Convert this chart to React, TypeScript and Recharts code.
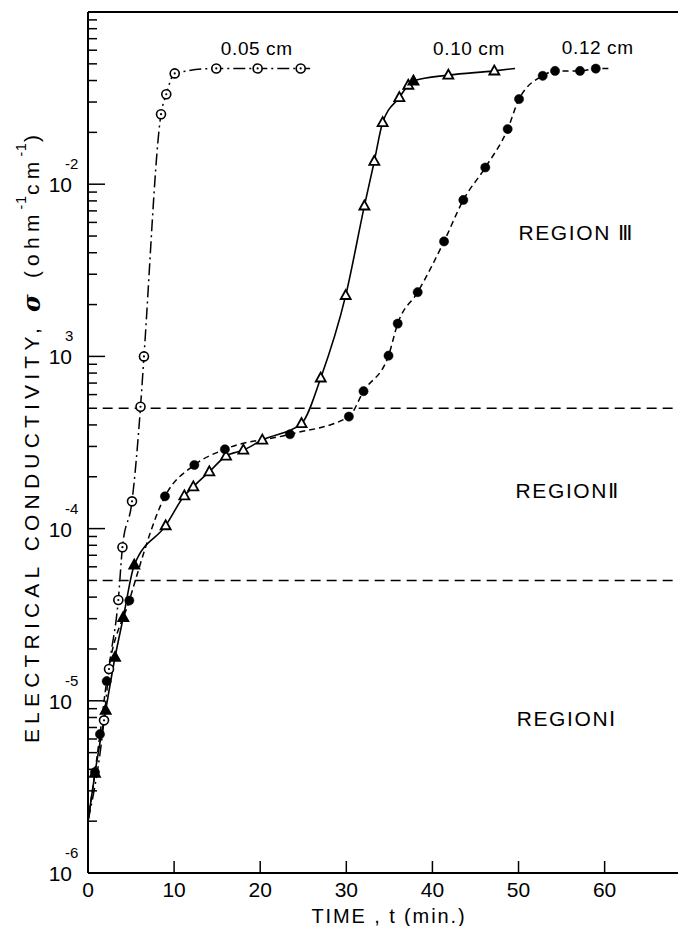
import React from 'react';
import { ComposedChart, Line, XAxis, YAxis, ReferenceLine, ReferenceDot } from 'recharts';

const FONT = '"Liberation Sans", Arial, sans-serif';

// 0.05 cm sample (open circles, dash-dot)
const t005 = [0, 1.86, 2.44, 3.52, 4.0, 5.11, 6.1, 6.5, 8.48, 9.09, 10.07, 14.9, 19.7, 24.7, 25.8];
const s005 = [2.0e-6, 7.7e-6, 1.53e-5, 3.85e-5, 7.8e-5, 1.44e-4, 5.1e-4, 1.0e-3, 2.55e-2, 3.33e-2, 4.4e-2, 4.7e-2, 4.7e-2, 4.7e-2, 4.7e-2];
const m005 = [0, 1, 1, 1, 1, 1, 1, 1, 1, 1, 1, 1, 1, 1, 0];

// 0.10 cm sample (triangles, solid)
const t010 = [0, 0.81, 2.05, 3.14, 4.1, 5.38, 9.02, 11.19, 12.23, 14.09, 16.03, 18.04, 20.24, 24.8, 27.03, 29.93, 32.1, 33.25, 34.22, 36.16, 37.2, 37.8, 41.85, 47.19, 49.6];
const s010 = [2.0e-6, 3.8e-6, 8.8e-6, 1.79e-5, 3.05e-5, 6.15e-5, 1.04e-4, 1.55e-4, 1.75e-4, 2.14e-4, 2.64e-4, 2.86e-4, 3.27e-4, 4.08e-4, 7.5e-4, 2.26e-3, 7.48e-3, 1.36e-2, 2.28e-2, 3.19e-2, 3.76e-2, 3.98e-2, 4.3e-2, 4.55e-2, 4.7e-2];
const m010 = [0, 2, 2, 2, 2, 2, 1, 1, 1, 1, 1, 1, 1, 1, 1, 1, 1, 1, 1, 1, 1, 2, 1, 1, 0];

// 0.12 cm sample (filled circles, dashed)
const t012 = [0, 0.81, 1.39, 2.17, 4.8, 8.94, 12.35, 15.9, 23.46, 30.3, 32.0, 34.9, 35.97, 38.29, 41.35, 43.59, 46.14, 48.74, 50.06, 52.81, 54.24, 57.14, 58.97, 60.6];
const s012 = [2.0e-6, 3.85e-6, 6.4e-6, 1.3e-5, 3.82e-5, 1.54e-4, 2.34e-4, 2.89e-4, 3.53e-4, 4.47e-4, 6.28e-4, 1.01e-3, 1.55e-3, 2.36e-3, 4.65e-3, 8.1e-3, 1.25e-2, 2.09e-2, 3.12e-2, 4.26e-2, 4.55e-2, 4.55e-2, 4.69e-2, 4.7e-2];
const m012 = [0, 1, 1, 1, 1, 1, 1, 1, 1, 1, 1, 1, 1, 1, 1, 1, 1, 1, 1, 1, 1, 1, 1, 0];

// axes
const xTicks = [0, 10, 20, 30, 40, 50, 60];
const xMax = 69.45;
const yDecades = [-6, -5, -4, -3, -2];
const yExpLabels = ['-6', '-5', '-4', '3', '-2'];
const yMinorMultipliers = [2, 3, 4, 5, 6, 7, 8, 9];
const yMin = 1e-6;
const yMax = 1e-1;

// region boundaries
const boundaries = [5e-4, 5e-5];
const boundaryStartT = 1.7;

// annotations
const annoText = ['0.05 cm', '0.10 cm', '0.12 cm'];
const annoT = [19.6, 44.25, 59.2];
const annoS = [0.0618, 0.0618, 0.0625];
const regionText = ['REGION \u2162', 'REGION\u2161', 'REGION\u2160'];
const regionT = [56.7, 55.7, 55.6];
const regionS = [5.27e-3, 1.67e-4, 7.94e-6];

const build = (t: number[], s: number[], m: number[]) => t.map((v, i) => ({ t: v, s: s[i], m: m[i] }));
const data005 = build(t005, s005, m005);
const data010 = build(t010, s010, m010);
const data012 = build(t012, s012, m012);

const yTicks: number[] = [];
yDecades.forEach((d) => {
  yTicks.push(Math.pow(10, d));
  yMinorMultipliers.forEach((k) => yTicks.push(k * Math.pow(10, d)));
});

const YTick = (props: any) => {
  const { x, y, payload } = props;
  const v = payload.value;
  const e = Math.log10(v);
  const major = Math.abs(e - Math.round(e)) < 1e-6;
  if (!major) {
    return <line x1={x} x2={x + 9} y1={y} y2={y} stroke="#000" strokeWidth={1.5} />;
  }
  const idx = yDecades.indexOf(Math.round(e));
  return (
    <g>
      <line x1={x} x2={x + 17} y1={y} y2={y} stroke="#000" strokeWidth={1.5} />
      <text x={x - 16} y={y + 8} textAnchor="end" fontSize={21} fontFamily={FONT} fill="#000">10</text>
      <text x={x - 23} y={y - 15} textAnchor="start" fontSize={15} fontFamily={FONT} fill="#000">{yExpLabels[idx]}</text>
    </g>
  );
};

const XTick = (props: any) => {
  const { x, y, payload } = props;
  return (
    <g>
      <line x1={x} x2={x} y1={y} y2={y - 12} stroke="#000" strokeWidth={1.5} />
      <text x={x} y={y + 24} textAnchor="middle" fontSize={21} fontFamily={FONT} fill="#000">{payload.value}</text>
    </g>
  );
};

const YLabel = (props: any) => {
  const vb = props.viewBox || { x: 0, y: 0, width: 88, height: 860 };
  const cx = vb.x + 31;
  const cy = vb.y + vb.height / 2 - 6;
  return (
    <text
      x={cx}
      y={cy}
      transform={`rotate(-90, ${cx}, ${cy})`}
      textAnchor="middle"
      dominantBaseline="central"
      fontSize={21}
      fontFamily={FONT}
      letterSpacing={5.2}
      fill="#000"
    >
      ELECTRICAL CONDUCTIVITY,{' '}
      <tspan fontWeight="bold" fontStyle="italic" fontFamily='"DejaVu Serif", serif' fontSize={24}>σ</tspan>
      <tspan> (ohm</tspan>
      <tspan dy={-10} fontSize={14} letterSpacing={1}>-1</tspan>
      <tspan dy={10}>cm</tspan>
      <tspan dy={-10} fontSize={14} letterSpacing={1}>-1</tspan>
      <tspan dy={10}>)</tspan>
    </text>
  );
};

const XLabel = (props: any) => {
  const vb = props.viewBox || { x: 88, y: 873, width: 598, height: 61 };
  const cx = vb.x + vb.width / 2 + 2;
  const cy = vb.y + 50;
  return (
    <text x={cx} y={cy} textAnchor="middle" fontSize={20} fontFamily={FONT} letterSpacing={1.9} fill="#000">
      TIME , t (min.)
    </text>
  );
};

const CircleDot = (props: any) => {
  const { cx, cy, payload } = props;
  if (!payload || !payload.m || cx == null || cy == null) return <g />;
  return (
    <g>
      <circle cx={cx} cy={cy} r={4.5} fill="#fff" stroke="#000" strokeWidth={1.6} />
      <circle cx={cx} cy={cy} r={1.1} fill="#000" />
    </g>
  );
};

const TriDot = (props: any) => {
  const { cx, cy, payload } = props;
  if (!payload || !payload.m || cx == null || cy == null) return <g />;
  const filled = payload.m === 2;
  const h = 9;
  const w = 10;
  const pts = `${cx},${cy - h * 0.6} ${cx - w / 2},${cy + h * 0.4} ${cx + w / 2},${cy + h * 0.4}`;
  return <polygon points={pts} fill={filled ? '#000' : '#fff'} stroke="#000" strokeWidth={1.8} />;
};

const FilledDot = (props: any) => {
  const { cx, cy, payload } = props;
  if (!payload || !payload.m || cx == null || cy == null) return <g />;
  return <circle cx={cx} cy={cy} r={4.6} fill="#000" stroke="#000" strokeWidth={0.5} />;
};

export default function App() {
  return (
    <div style={{ margin: -8, background: '#fff' }}>
      <ComposedChart width={686} height={934} margin={{ top: 12, right: 0, bottom: 0, left: 0 }}>
        <XAxis
          type="number"
          dataKey="t"
          domain={[0, xMax]}
          ticks={xTicks}
          interval={0}
          allowDataOverflow
          tickSize={0}
          tickMargin={0}
          tickLine={false}
          tick={<XTick />}
          height={61}
          axisLine={{ stroke: '#000', strokeWidth: 2 }}
          label={{ content: <XLabel /> } as any}
        />
        <YAxis
          type="number"
          dataKey="s"
          scale="log"
          domain={[yMin, yMax]}
          ticks={yTicks}
          interval={0}
          allowDataOverflow
          tickSize={0}
          tickMargin={0}
          tickLine={false}
          tick={<YTick />}
          width={88}
          axisLine={{ stroke: '#000', strokeWidth: 2 }}
          label={{ content: <YLabel /> } as any}
        />
        <ReferenceLine y={yMax} stroke="#000" strokeWidth={2} ifOverflow="visible" />
        {boundaries.map((b) => (
          <ReferenceLine
            key={b}
            segment={[{ x: boundaryStartT, y: b }, { x: xMax, y: b }]}
            stroke="#000"
            strokeWidth={1.5}
            strokeDasharray="10 6"
          />
        ))}
        <Line
          data={data005}
          dataKey="s"
          type="monotone"
          stroke="#000"
          strokeWidth={1.5}
          strokeDasharray="12 4 2 4"
          dot={<CircleDot />}
          activeDot={false}
          isAnimationActive={false}
        />
        <Line
          data={data010}
          dataKey="s"
          type="monotone"
          stroke="#000"
          strokeWidth={1.6}
          dot={<TriDot />}
          activeDot={false}
          isAnimationActive={false}
        />
        <Line
          data={data012}
          dataKey="s"
          type="monotone"
          stroke="#000"
          strokeWidth={1.5}
          strokeDasharray="6 4"
          dot={<FilledDot />}
          activeDot={false}
          isAnimationActive={false}
        />
        {annoText.map((txt, i) => (
          <ReferenceDot
            key={txt}
            x={annoT[i]}
            y={annoS[i]}
            r={0}
            stroke="none"
            fill="none"
            label={{ value: txt, position: 'center', fontSize: 19, letterSpacing: 0.6, fill: '#000', fontFamily: FONT }}
          />
        ))}
        {regionText.map((txt, i) => (
          <ReferenceDot
            key={txt}
            x={regionT[i]}
            y={regionS[i]}
            r={0}
            stroke="none"
            fill="none"
            label={{ value: txt, position: 'center', fontSize: 21, letterSpacing: 1.6, fill: '#000', fontFamily: FONT }}
          />
        ))}
      </ComposedChart>
    </div>
  );
}
